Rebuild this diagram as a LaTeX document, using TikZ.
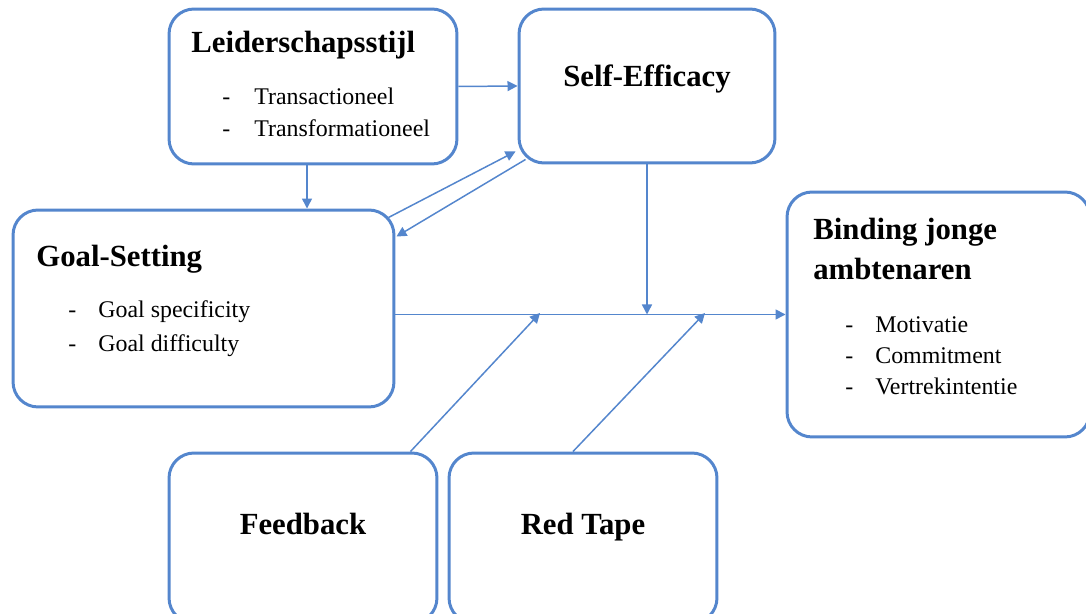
\documentclass[tikz,border=0pt]{standalone}
\usepackage{fontspec}
\setmainfont{Liberation Serif}
\usetikzlibrary{arrows.meta}

\definecolor{boxblue}{RGB}{84,134,205}

\tikzset{
  block/.style={draw=boxblue,line width=1.7pt,rounded corners=0.5cm,inner sep=0pt},
  title/.style={anchor=base west,inner sep=0pt,font=\fontsize{17.5}{21}\selectfont\bfseries},
  item/.style={anchor=base west,inner sep=0pt,font=\fontsize{13.6}{16}\selectfont},
  link/.style={draw=boxblue,line width=0.85pt,-{Triangle[length=5.7pt,width=5.7pt]}}
}

\begin{document}
\begin{tikzpicture}[x=0.02cm,y=-0.02cm]
      \useasboundingbox (0,0) rectangle (1086,614);

      % boxes
      \node[block,minimum width=5.76cm,minimum height=3.1cm]  (lead) at (313,86.5)  {};
      \node[block,minimum width=5.12cm,minimum height=3.08cm] (self) at (647,86)    {};
      \node[block,minimum width=7.62cm,minimum height=3.94cm] (goal) at (203.5,308.5) {};
      \node[block,minimum width=6.06cm,minimum height=4.9cm]  (bind) at (938.5,314.5) {};
      \node[block,minimum width=5.36cm,minimum height=3.4cm]  (fb)   at (303,538)   {};
      \node[block,minimum width=5.36cm,minimum height=3.4cm]  (rt)   at (583,538)   {};

      % texts
      \node[title] (leadT) at (191,53) {Leiderschapsstijl};
      \node[item]  (leadD1) at (222,105) {-};
      \node[item]  (leadA)  at (254,105) {Transactioneel};
      \node[item]  (leadD2) at (222,137) {-};
      \node[item]  (leadB)  at (254,137) {Transformationeel};

      \node[title] (selfT) at (563,87) {Self-Efficacy};

      \node[title] (goalT) at (36,267) {Goal-Setting};
      \node[item]  (goalD1) at (68,318) {-};
      \node[item]  (goalA)  at (98,318) {Goal specificity};
      \node[item]  (goalD2) at (68,352) {-};
      \node[item]  (goalB)  at (98,352) {Goal difficulty};

      \node[title] (bindT1) at (813,240) {Binding jonge};
      \node[title] (bindT2) at (813,280) {ambtenaren};
      \node[item]  (bindD1) at (845,333) {-};
      \node[item]  (bindA)  at (875,333) {Motivatie};
      \node[item]  (bindD2) at (845,364) {-};
      \node[item]  (bindB)  at (875,364) {Commitment};
      \node[item]  (bindD3) at (845,395) {-};
      \node[item]  (bindC)  at (875,395) {Vertrekintentie};

      \node[title,anchor=base] (fbT) at (303,535) {Feedback};
      \node[title,anchor=base] (rtT) at (583,535) {Red Tape};

      % end points on the main line
      \coordinate (fbend) at (540,313);
      \coordinate (rtend) at (705,313);

      % connectors
      \path[link] (lead.east) -- (self.west);
      \path[link] ([xshift=-0.12cm]lead.south) -- ([xshift=-0.12cm]lead.south |- goal.north);
      \path[link] ([shift={(-7,9)}]goal.north east) -- ([shift={(-2,-13)}]self.south west);
      \path[link] ([shift={(8,-5)}]self.south west) -- ([shift={(1,28)}]goal.north east);
      \path[link] (goal.east |- bind.west) -- (bind.west);
      \path[link] (self.south) -- (self.south |- bind.west);
      \path[link] ([xshift=-0.56cm]fb.north east) -- (fbend);
      \path[link] ([xshift=-0.2cm]rt.north) -- (rtend);
    \end{tikzpicture}
\end{document}
